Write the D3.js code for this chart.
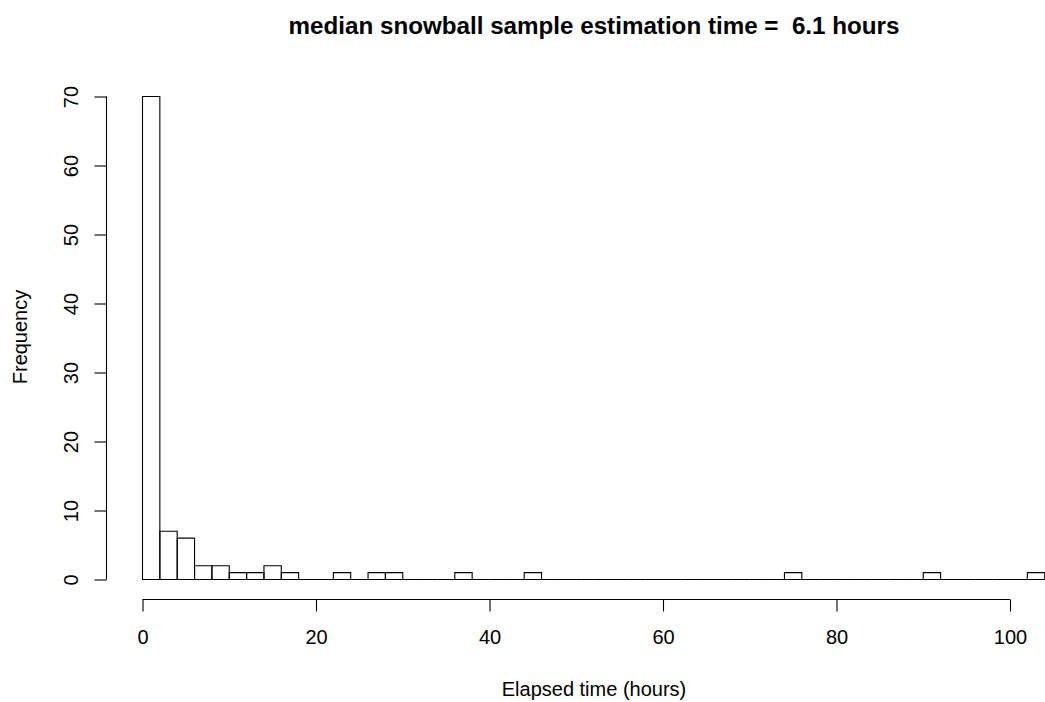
<!DOCTYPE html>
<html><head><meta charset="utf-8">
<script src="https://cdn.jsdelivr.net/npm/d3@7"></script>
<style>body{margin:0;background:#fff}svg{display:block}text{font-family:"Liberation Sans",Arial,sans-serif;fill:#000}</style>
</head><body>
<script>
const binStarts = [0,2,4,6,8,10,12,14,16,18,20,22,24,26,28,30,32,34,36,38,40,42,44,46,48,50,52,54,56,58,60,62,64,66,68,70,72,74,76,78,80,82,84,86,88,90,92,94,96,98,100,102];
const counts    = [70,7,6,2,2,1,1,2,1,0,0,1,0,1,1,0,0,0,1,0,0,0,1,0,0,0,0,0,0,0,0,0,0,0,0,0,0,1,0,0,0,0,0,0,0,1,0,0,0,0,0,1];
const binWidth = 2;
const xTicks = [0,20,40,60,80,100];
const yTicks = [0,10,20,30,40,50,60,70];
const title = "median snowball sample estimation time =  6.1 hours";
const xLabel = "Elapsed time (hours)";
const yLabel = "Frequency";

const W=1045,H=702;
const svg=d3.select("body").append("svg").attr("width",W).attr("height",H);
const x=d3.scaleLinear().domain([0,100]).range([142.5,1010]);
const y=d3.scaleLinear().domain([0,70]).range([579.5,96.5]);

const data=binStarts.map((s,i)=>({s,c:counts[i]}));
svg.append("g").selectAll("path").data(data).join("path")
  .attr("d",d=>`M${x(d.s)},${y(0)}V${y(d.c)}H${x(d.s+binWidth)}V${y(0)}Z`)
  .attr("fill","none").attr("stroke","#000").attr("stroke-width",1.1);

const xa=svg.append("g").attr("transform","translate(0,599.5)")
  .call(d3.axisBottom(x).tickValues(xTicks).tickSize(12).tickPadding(18).tickFormat(d3.format("d")));
const ya=svg.append("g").attr("transform","translate(106.5,0)")
  .call(d3.axisLeft(y).tickValues(yTicks).tickSize(12).tickPadding(17).tickFormat(d3.format("d")));
[xa,ya].forEach(a=>{a.select(".domain").attr("stroke","#000").attr("stroke-width",1.1);
  a.selectAll(".tick line").attr("stroke","#000").attr("stroke-width",1.1);
  a.selectAll("text").style("font-size","20px").attr("font-family",null);});
xa.selectAll(".domain").attr("d",`M${x(0)},0H${x(100)}`);
ya.selectAll(".domain").attr("d",`M0,${y(0)}V${y(70)}`);
ya.selectAll(".tick text").attr("x",null).attr("dy",null)
  .attr("transform","translate(-29,0) rotate(-90)").attr("text-anchor","middle");

svg.append("text").attr("x",594).attr("y",34).attr("text-anchor","middle")
  .style("font-size","24.2px").style("font-weight","bold").style("white-space","pre").text(title);
svg.append("text").attr("x",594).attr("y",696).attr("text-anchor","middle")
  .style("font-size","20px").text(xLabel);
svg.append("text").attr("transform","translate(27,337) rotate(-90)").attr("text-anchor","middle")
  .style("font-size","20px").text(yLabel);
</script>
</body></html>
